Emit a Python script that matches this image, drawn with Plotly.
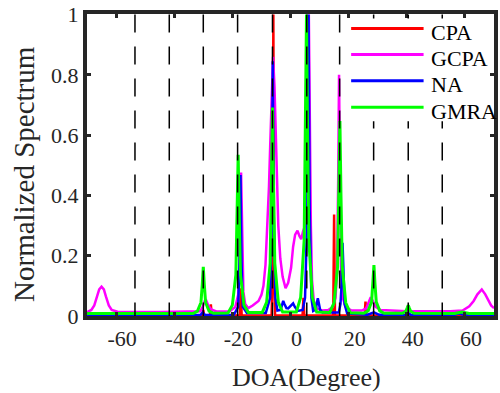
import plotly.graph_objects as go

# ---------------- data ----------------
true_doa = [-53.5, -41.7, -30.0, -18.2, -6.2, 5.6, 16.9, 28.6, 40.5, 52.2]

x_ticks = [-60, -40, -20, 0, 20, 40, 60]
x_tick_labels = ["-60", "-40", "-20", "0", "20", "40", "60"]
y_ticks = [0, 0.2, 0.4, 0.6, 0.8, 1]
y_tick_labels = ["0", "0.2", "0.4", "0.6", "0.8", "1"]

series_names = ["CPA", "GCPA", "NA", "GMRA"]
series_colors = ["#FF0000", "#FF00FF", "#0000FF", "#00FF00"]

cpa_doa = [-70, -68.8, -68.5, -68.2, -38.4, -38.1, -37.8, -30.3, -30.0, -29.7,
           -27.7, -27.4, -27.1, -17.4, -17.1, -16.8, -6.5, -6.15, -5.9, -5.65,
           -5.3, 4.15, 4.45, 4.75, 14.7, 15.0, 15.3, 25.5, 25.8, 26.1,
           34.9, 35.2, 35.5, 65.5, 65.8, 66.1, 70]
cpa_val = [.002, .002, .012, .002, .002, .006, .002, .002, .02, .002,
           .002, .039, .002, .002, .092, .002, .002, .15, 1.0, .15,
           .002, .002, .06, .002, .002, .337, .002, .002, .048, .002,
           .002, .012, .002, .002, .012, .002, .002]

gcpa_doa = [-70, -68.5, -67.5, -66.5, -65.8, -65.0, -64.2, -63.5, -62.5, -61.5,
            -59.5, -45, -33, -31, -30.2, -29.5, -29.0, -28.3, -27.3, -25.5,
            -21, -19, -18, -17.5, -17.0, -16.6, -16.2, -15.6, -14.5, -13,
            -12, -11, -10, -9.3, -8.6, -8.0, -7.4, -7.0, -6.5, -6.0,
            -5.5, -5.0, -4.6, -4.2, -3.5, -2.7, -1.7, -0.8, 0.2, 0.9,
            1.6, 2.4, 3.1, 3.7, 4.3, 5.0, 5.5, 5.9, 6.3, 6.7,
            7.0, 7.4, 8.0, 9.0, 11.0, 13.0, 14.5, 15.5, 16.0, 16.4,
            16.7, 17.0, 17.4, 18.0, 19.0, 21.0, 24.5, 26.0, 27.0, 27.6,
            28.3, 29.3, 31.0, 40, 55, 59.2, 61.5, 63.0, 64.3, 65.8,
            67.0, 68.0, 69.0, 70]
gcpa_val = [.013, .02, .035, .065, .088, .097, .088, .065, .035, .02,
            .014, .013, .014, .016, .03, .05, .052, .035, .022, .015,
            .015, .03, .07, .2, .476, .2, .08, .04, .026, .035,
            .042, .05, .07, .1, .17, .29, .43, .56, .76, .86,
            .76, .56, .42, .3, .19, .13, .092, .11, .16, .23,
            .27, .283, .265, .255, .28, .3, .42, .6, 1.0, .55,
            .3, .12, .05, .025, .018, .02, .03, .06, .15, .45,
            .80, .45, .15, .06, .03, .018, .018, .025, .05, .062,
            .05, .03, .02, .016, .016, .018, .032, .05, .072, .088,
            .072, .052, .035, .026]

na_doa = [-70, -31.0, -30.2, -29.4, -19.5, -18.0, -17.55, -17.2, -16.85, -16.4,
          -15.0, -8.5, -7.0, -6.45, -6.1, -5.75, -5.2, -4.5, -3.4, -2.8,
          -2.5, -2.1, -1.4, -0.8, 0.2, 0.9, 1.5, 2.5, 4.2, 5.0,
          5.8, 6.2, 6.6, 7.2, 7.8, 8.7, 9.1, 9.4, 9.7, 10.2,
          11.0, 16.6, 17.2, 17.6, 17.9, 18.2, 18.6, 19.5, 26.5, 28.7,
          30.5, 39.5, 40.5, 41.5, 56.0, 58.0, 60.0, 70]
na_val = [.003, .003, .012, .003, .004, .03, .18, .468, .18, .03,
          .01, .01, .06, .33, .845, .33, .06, .018, .02, .04,
          .05, .04, .026, .025, .035, .042, .03, .017, .02, .06,
          .35, 1.0, .35, .06, .017, .022, .045, .059, .045, .02,
          .012, .012, .04, .11, .243, .11, .04, .008, .004, .012,
          .004, .003, .01, .003, .003, .008, .003, .003]

gmra_doa = [-70, -33.5, -32.0, -30.8, -30.35, -30.0, -29.65, -29.2, -28.0, -26.5,
            -21.5, -20.0, -18.8, -18.35, -18.0, -17.65, -17.2, -16.0, -14.5, -9.7,
            -8.2, -7.0, -6.55, -6.2, -5.85, -5.4, -4.2, -2.7, 2.0, 3.5,
            4.7, 5.15, 5.5, 5.85, 6.3, 7.5, 9.0, 13.5, 15.0, 16.2,
            16.65, 17.0, 17.35, 17.8, 19.0, 20.5, 25.2, 26.7, 27.9, 28.35,
            28.7, 29.05, 29.5, 30.7, 32.2, 38.5, 39.7, 40.2, 40.5, 40.8,
            41.3, 42.5, 56.5, 59.0, 61.5, 70]
gmra_val = [.008, .008, .016, .045, .104, .163, .104, .045, .016, .009,
            .01, .036, .136, .336, .535, .336, .136, .036, .012, .012,
            .046, .175, .434, .692, .434, .175, .046, .013, .013, .062,
            .252, .632, 1.0, .632, .252, .062, .013, .012, .044, .164,
            .406, .647, .406, .164, .044, .011, .009, .017, .047, .108,
            .169, .108, .047, .017, .009, .009, .016, .028, .036, .028,
            .016, .009, .008, .013, .008, .008]

# ---------------- figure ----------------
FONT = "Times New Roman, Liberation Serif, DejaVu Serif, serif"
AX = "#262626"
series = [(cpa_doa, cpa_val, 2.5), (gcpa_doa, gcpa_val, 2.5),
          (na_doa, na_val, 2.5), (gmra_doa, gmra_val, 3)]

fig = go.Figure()
for name, color, (xs, ys, w) in zip(series_names, series_colors, series):
    fig.add_trace(go.Scatter(x=xs, y=ys, mode="lines", name=name,
                             line=dict(color=color, width=w), showlegend=False))

shapes = []
for d in true_doa:
    shapes.append(dict(type="line", xref="x", yref="y", x0=d, x1=d, y0=1, y1=0,
                       line=dict(color="black", width=1.5, dash="18px,14px"),
                       layer="above"))

# legend (drawn manually to mimic the long line samples)
shapes.append(dict(type="rect", xref="paper", yref="paper", x0=0.640, x1=0.985,
                   y0=0.645, y1=0.985, fillcolor="white", line=dict(width=0),
                   layer="above"))
leg_y = [0.952, 0.866, 0.779, 0.691]
annotations = []
for name, color, yy in zip(series_names, series_colors, leg_y):
    shapes.append(dict(type="line", xref="paper", yref="paper", x0=0.649, x1=0.827,
                       y0=yy, y1=yy, line=dict(color=color, width=3), layer="above"))
    annotations.append(dict(text=name, xref="paper", yref="paper", x=0.841, y=yy - 0.013,
                            xanchor="left", yanchor="middle", showarrow=False,
                            font=dict(family=FONT, size=22, color="black")))

annotations.append(dict(text="DOA(Degree)", xref="paper", yref="paper", x=0.54, y=-0.205,
                        xanchor="center", yanchor="middle", showarrow=False,
                        font=dict(family=FONT, size=26, color=AX)))
annotations.append(dict(text="Normalized Spectrum", xref="paper", yref="paper", x=-0.155,
                        y=0.47, textangle=-90, xanchor="center", yanchor="middle",
                        showarrow=False, font=dict(family=FONT, size=29, color=AX)))

axis_common = dict(showgrid=False, zeroline=False, showline=True, linewidth=4,
                   linecolor=AX, mirror="ticks", ticks="inside", ticklen=4,
                   tickwidth=3, tickcolor=AX,
                   tickfont=dict(family=FONT, size=22, color=AX))

fig.update_layout(
    width=500, height=393,
    margin=dict(l=87, r=2, t=12, b=77),
    paper_bgcolor="white", plot_bgcolor="white",
    font=dict(family=FONT),
    xaxis=dict(range=[-70, 70], tickvals=x_ticks, ticktext=x_tick_labels,
               ticklabelshift=6, **axis_common),
    yaxis=dict(range=[0, 1.002], tickvals=y_ticks, ticktext=y_tick_labels,
               **axis_common),
    shapes=shapes, annotations=annotations, showlegend=False,
)

fig.write_html("out.html", config={"displayModeBar": False},
               post_script="document.body.style.margin='0px';")
